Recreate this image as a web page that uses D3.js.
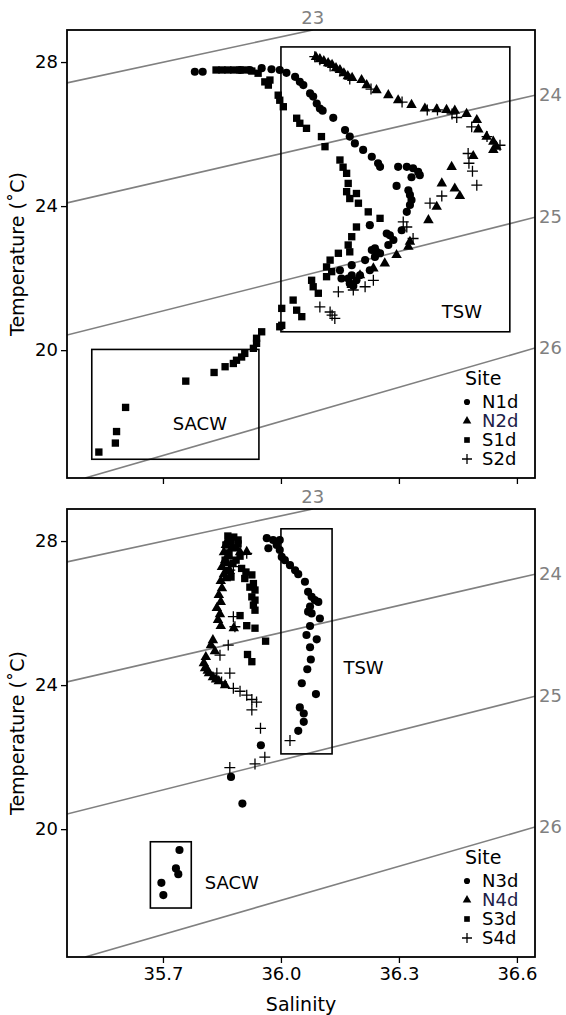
<!DOCTYPE html>
<html>
<head>
<meta charset="utf-8">
<script src="https://cdn.jsdelivr.net/npm/d3@7"></script>
<style>
  body { margin: 0; background: #fff; }
  text { font-family: "DejaVu Sans", sans-serif; }
</style>
</head>
<body>
<div id="container"></div>
<script>
/* CONSTANTS AND GLOBALS */
const width = 566, height = 1015;

// T-S data, [salinity, temperature]
const n1d = [[35.781,27.73],[35.801,27.73],[35.896,27.78],[35.921,27.78],[35.951,27.83],[35.976,27.80],[35.997,27.78],[36.014,27.70],[36.036,27.59],[36.048,27.45],[36.057,27.36],[36.074,27.13],[36.082,27.04],[36.091,26.85],[36.099,26.71],[36.106,26.65],[36.133,26.45],[36.163,26.11],[36.175,25.93],[36.188,25.74],[36.209,25.56],[36.231,25.37],[36.247,25.19],[36.252,25.09],[36.298,25.09],[36.320,25.09],[36.336,25.05],[36.349,24.95],[36.353,24.86],[36.332,24.80],[36.294,24.56],[36.324,24.44],[36.328,24.31],[36.332,24.17],[36.328,24.03],[36.320,23.84],[36.307,23.33],[36.269,23.24],[36.277,23.19],[36.286,23.06],[36.273,22.92],[36.226,23.47],[36.239,22.83],[36.231,22.78],[36.243,22.73],[36.252,22.69],[36.239,22.59],[36.214,22.50],[36.180,22.36],[36.150,22.22],[36.154,21.99],[36.171,21.99],[36.175,21.85],[36.184,21.78],[36.180,22.08],[36.201,22.08],[36.192,21.94],[36.226,22.22]];
const n2d = [[36.089,28.14],[36.099,28.08],[36.109,28.03],[36.120,27.97],[36.130,27.92],[36.140,27.83],[36.150,27.78],[36.160,27.69],[36.170,27.61],[36.181,27.56],[36.205,27.50],[36.218,27.36],[36.243,27.22],[36.273,27.08],[36.298,26.94],[36.332,26.81],[36.366,26.71],[36.396,26.69],[36.421,26.67],[36.442,26.65],[36.472,26.56],[36.498,26.39],[36.502,26.13],[36.523,25.93],[36.540,25.79],[36.548,25.65],[36.540,25.56],[36.489,25.39],[36.434,25.09],[36.409,24.63],[36.442,24.49],[36.455,24.28],[36.396,23.98],[36.375,23.61],[36.328,23.01],[36.324,22.87],[36.294,22.64],[36.264,22.41],[36.235,22.27],[36.201,22.08],[36.180,21.81]];
const s1d = [[35.835,27.78],[35.850,27.78],[35.865,27.78],[35.880,27.78],[35.896,27.78],[35.911,27.78],[35.926,27.75],[35.942,27.69],[35.959,27.45],[35.968,27.36],[35.972,27.50],[35.993,27.08],[35.997,26.94],[36.006,26.76],[36.040,26.44],[36.048,26.30],[36.065,26.16],[36.103,25.93],[36.112,25.65],[36.150,25.28],[36.158,25.08],[36.167,24.91],[36.171,24.63],[36.167,24.40],[36.192,24.35],[36.175,24.21],[36.197,24.08],[36.222,23.84],[36.252,23.66],[36.192,23.42],[36.180,23.15],[36.171,22.92],[36.175,22.73],[36.146,22.69],[36.125,22.50],[36.116,22.31],[36.129,22.18],[36.116,22.04],[36.078,21.94],[36.082,21.76],[36.095,21.58],[36.031,21.39],[36.040,21.11],[36.053,20.93],[36.002,21.16],[36.002,20.69],[35.997,20.65],[35.951,20.51],[35.938,20.33],[35.938,20.19],[35.930,20.05],[35.908,19.91],[35.900,19.81],[35.887,19.72],[35.879,19.63],[35.858,19.54],[35.830,19.38],[35.758,19.14],[35.605,18.41],[35.582,17.74],[35.579,17.42],[35.537,17.17]];
const s2d = [[36.086,28.15],[36.099,28.06],[36.125,27.89],[36.150,27.75],[36.175,27.53],[36.229,27.25],[36.308,26.89],[36.372,26.67],[36.398,26.67],[36.435,26.56],[36.447,26.46],[36.485,26.20],[36.524,25.93],[36.557,25.69],[36.476,25.46],[36.478,25.19],[36.487,24.97],[36.498,24.58],[36.409,24.28],[36.379,24.08],[36.311,23.56],[36.320,23.42],[36.336,23.10],[36.235,21.94],[36.214,21.76],[36.184,21.67],[36.146,21.62],[36.099,21.20],[36.125,21.06],[36.130,20.97],[36.137,20.88]];

const n3d = [[35.964,28.08],[35.980,28.03],[35.997,28.03],[35.968,27.80],[35.989,27.89],[35.997,27.75],[36.002,27.56],[36.010,27.47],[36.023,27.33],[36.036,27.19],[36.044,27.08],[36.061,26.87],[36.069,26.59],[36.078,26.45],[36.086,26.36],[36.095,26.31],[36.074,26.18],[36.069,26.04],[36.078,25.99],[36.099,25.85],[36.074,25.64],[36.065,25.39],[36.091,25.27],[36.074,25.05],[36.076,24.71],[36.067,24.44],[36.053,24.05],[36.089,23.75],[36.048,23.38],[36.058,23.21],[36.058,22.98],[36.044,22.73],[35.949,22.33],[35.873,21.45],[35.902,20.71],[35.742,19.42],[35.733,18.91],[35.739,18.75],[35.696,18.51],[35.701,18.17]];
const n4d = [[35.860,27.89],[35.855,27.69],[35.858,27.47],[35.850,27.28],[35.855,27.08],[35.847,26.89],[35.850,26.69],[35.842,26.50],[35.847,26.31],[35.837,26.14],[35.845,25.97],[35.840,25.81],[35.847,25.64],[35.880,25.58],[35.827,25.25],[35.822,25.11],[35.832,24.94],[35.809,24.78],[35.804,24.61],[35.807,24.47],[35.817,24.33],[35.827,24.22],[35.842,24.11],[35.858,24.00],[35.913,27.70],[35.865,28.03],[35.875,27.81],[35.868,27.58],[35.863,27.39],[35.870,27.17],[35.860,26.97],[35.886,27.81],[35.896,27.69],[35.814,24.40],[35.835,24.16]];
const s3d = [[35.865,28.14],[35.880,28.11],[35.873,27.97],[35.860,27.89],[35.883,27.81],[35.868,27.67],[35.858,27.47],[35.878,27.39],[35.865,27.19],[35.873,27.00],[35.900,27.24],[35.911,27.14],[35.926,27.06],[35.908,26.96],[35.930,26.82],[35.921,26.72],[35.934,26.64],[35.926,26.45],[35.934,26.36],[35.930,26.22],[35.934,26.08],[35.896,25.93],[35.913,25.65],[35.934,25.58],[35.961,25.22],[35.915,24.85],[35.926,24.65],[35.891,28.03],[35.896,27.58],[35.886,27.47],[35.891,27.92]];
const s4d = [[35.913,27.66],[35.879,27.29],[35.870,27.19],[35.879,25.90],[35.883,25.62],[35.866,25.11],[35.845,24.83],[35.837,24.33],[35.849,24.09],[35.870,24.33],[35.879,23.91],[35.896,23.83],[35.913,23.72],[35.926,23.60],[35.938,23.53],[35.926,23.31],[35.948,22.80],[36.023,22.46],[35.959,22.00],[35.934,21.81],[35.870,21.71]];

// isopycnals (sigma-theta): label, [S,T] end points
const sigmaLabels = ["23", "24", "25", "26"];
const sigmaLines = [
  [[35.456, 27.42], [36.081, 28.89]],
  [[35.456, 24.09], [36.646, 27.08]],
  [[35.456, 20.42], [36.646, 23.69]],
  [[35.502, 16.45], [36.646, 20.06]]
];

// water mass boxes: name, S min, S max, T min, T max, label S, label T
const boxesTop = [
  ["TSW", 36.0, 36.582, 20.51, 28.42, 36.46, 21.06],
  ["SACW", 35.519, 35.944, 16.97, 20.02, 35.794, 17.94]
];
const boxesBottom = [
  ["TSW", 36.0, 36.13, 22.09, 28.34, 36.21, 24.47],
  ["SACW", 35.668, 35.772, 17.81, 19.65, 35.875, 18.5]
];

const sitesTop = ["N1d", "N2d", "S1d", "S2d"];
const sitesBottom = ["N3d", "N4d", "S3d", "S4d"];
const xTicks = [35.7, 36.0, 36.3, 36.6];
const yTicks = [20, 24, 28];

// SCALES
const margin = { left: 67, width: 468, height: 448 };
const x = d3.scaleLinear().domain([35.456, 36.646]).range([margin.left, margin.left + margin.width]);

const plus = {
  draw(ctx, size) {
    const r = Math.sqrt(size) / 2;
    ctx.moveTo(-r, 0); ctx.lineTo(r, 0);
    ctx.moveTo(0, -r); ctx.lineTo(0, r);
  }
};
const shapes = [
  { type: d3.symbolCircle, size: 52, legSize: 30, fill: true },
  { type: d3.symbolTriangle, size: 48, legSize: 32, fill: true },
  { type: d3.symbolSquare, size: 54, legSize: 32, fill: true },
  { type: plus, size: 120, legSize: 100, fill: false }
];

// CREATE SVG ELEMENT
const svg = d3.select("#container").append("svg")
  .attr("width", width)
  .attr("height", height);

function drawPanel(top, series, sites, boxes, showX, id) {
  const y = d3.scaleLinear().domain([16.45, 28.89]).range([top + margin.height, top]);
  const g = svg.append("g");

  g.append("clipPath").attr("id", "clip" + id)
    .append("rect")
    .attr("x", margin.left).attr("y", top)
    .attr("width", margin.width).attr("height", margin.height);

  // isopycnals
  const line = d3.line().x(d => x(d[0])).y(d => y(d[1]));
  g.append("g").attr("clip-path", `url(#clip${id})`)
    .selectAll("path").data(sigmaLines).join("path")
    .attr("d", line)
    .attr("fill", "none")
    .attr("stroke", "#808080")
    .attr("stroke-width", 1.6);

  g.selectAll(".siglab").data(sigmaLabels).join("text")
    .attr("class", "siglab")
    .attr("x", (d, i) => i === 0 ? x(sigmaLines[i][1][0]) : x(sigmaLines[i][1][0]) + 4)
    .attr("y", (d, i) => i === 0 ? top - 6 : y(sigmaLines[i][1][1]) + 6)
    .attr("text-anchor", (d, i) => i === 0 ? "middle" : "start")
    .attr("font-size", 18)
    .attr("fill", "#808080")
    .text(d => d);

  // boxes
  g.selectAll(".box").data(boxes).join("rect")
    .attr("x", d => x(d[1]))
    .attr("y", d => y(d[4]))
    .attr("width", d => x(d[2]) - x(d[1]))
    .attr("height", d => y(d[3]) - y(d[4]))
    .attr("fill", "none")
    .attr("stroke", "#000")
    .attr("stroke-width", 1.6);
  g.selectAll(".boxlab").data(boxes).join("text")
    .attr("x", d => x(d[5]))
    .attr("y", d => y(d[6]) + 6)
    .attr("text-anchor", "middle")
    .attr("font-size", 18)
    .text(d => d[0]);

  // points
  series.forEach((data, i) => {
    const sh = shapes[i];
    g.append("g").selectAll("path").data(data).join("path")
      .attr("transform", d => `translate(${x(d[0])},${y(d[1])})`)
      .attr("d", d3.symbol().type(sh.type).size(sh.size))
      .attr("fill", sh.fill ? "#000" : "none")
      .attr("stroke", sh.fill ? "none" : "#000")
      .attr("stroke-width", 1.3);
  });

  // frame
  g.append("rect")
    .attr("x", margin.left).attr("y", top)
    .attr("width", margin.width).attr("height", margin.height)
    .attr("fill", "none").attr("stroke", "#000").attr("stroke-width", 1.8);

  // BUILD AND CALL AXES
  const ya = g.append("g")
    .attr("transform", `translate(${margin.left},0)`)
    .call(d3.axisLeft(y).tickValues(yTicks).tickSize(6).tickPadding(3));
  const xa = g.append("g")
    .attr("transform", `translate(0,${top + margin.height})`)
    .call(d3.axisBottom(x).tickValues(xTicks).tickSize(6).tickPadding(4)
      .tickFormat(showX ? d3.format(".1f") : ""));
  [ya, xa].forEach(a => {
    a.select(".domain").remove();
    a.selectAll("text").attr("font-size", 18).attr("font-family", "DejaVu Sans").attr("fill", "#000");
    a.selectAll("line").attr("stroke", "#000").attr("stroke-width", 1.3);
  });

  g.append("text")
    .attr("transform", `translate(24,${top + margin.height / 2}) rotate(-90)`)
    .attr("text-anchor", "middle")
    .attr("font-size", 19)
    .text("Temperature (˚C)");

  // legend
  const lx = 467, ly = top + 348;
  g.append("text").attr("x", lx - 2).attr("y", ly + 7).attr("font-size", 19).text("Site");
  sites.forEach((s, i) => {
    const sh = shapes[i];
    const yy = ly + 24 + i * 19;
    g.append("path")
      .attr("transform", `translate(${lx},${yy})`)
      .attr("d", d3.symbol().type(sh.type).size(sh.legSize))
      .attr("fill", sh.fill ? "#000" : "none")
      .attr("stroke", sh.fill ? "none" : "#000")
      .attr("stroke-width", 1.3);
    g.append("text")
      .attr("x", lx + 15).attr("y", yy + 6)
      .attr("font-size", 18)
      .attr("fill", i === 1 ? "#1c2148" : "#000")
      .text(s);
  });
}

drawPanel(30, [n1d, n2d, s1d, s2d], sitesTop, boxesTop, false, 1);
drawPanel(509, [n3d, n4d, s3d, s4d], sitesBottom, boxesBottom, true, 2);

svg.append("text")
  .attr("x", margin.left + margin.width / 2)
  .attr("y", 1011)
  .attr("text-anchor", "middle")
  .attr("font-size", 19)
  .text("Salinity");
</script>
</body>
</html>
